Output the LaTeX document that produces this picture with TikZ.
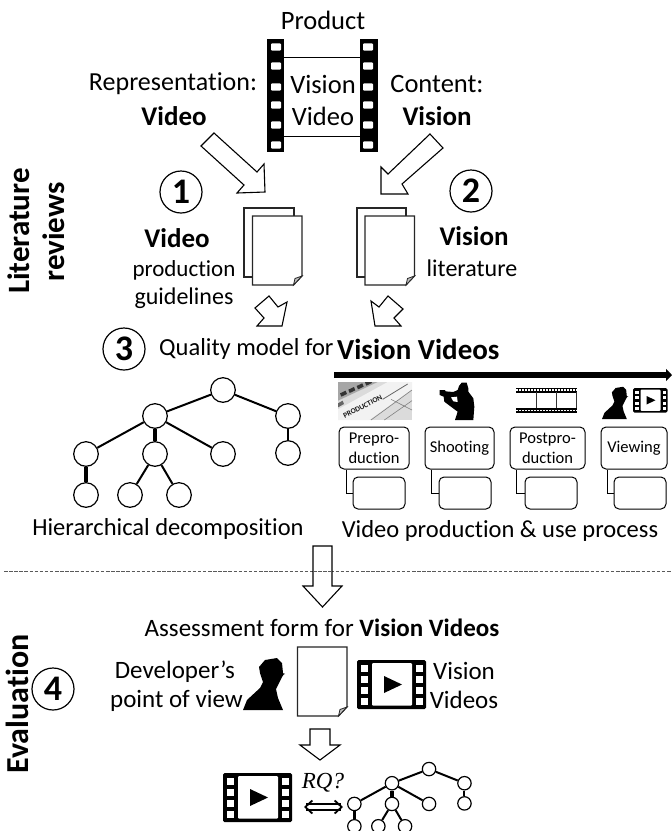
\documentclass[tikz,border=0pt]{standalone}
\usepackage{fontspec}
\setmainfont{Carlito}[Ligatures=NoCommon]
\newfontfamily\rqfont{Liberation Serif}
\usetikzlibrary{arrows.meta,calc}
\newcommand{\fz}[1]{\fontsize{#1}{#1}\selectfont}
\tikzset{
  lbl/.style={inner sep=0pt,font=\fz{25},align=center},
  bold lbl/.style={lbl,font=\fz{26}\bfseries},
  numcirc/.style={circle,draw,line width=1.2pt,minimum size=42pt,inner sep=0pt,font=\fz{36}\bfseries},
  treenode/.style={circle,draw,fill=white,line width=1.2pt,inner sep=0pt},
  treeedge/.style={line width=2pt},
  treeedgeB/.style={line width=3.2pt},
  block/.style={draw,fill=white,line width=1.1pt,line join=miter},
  sheet/.style={draw=black!85,fill=white,line width=1.2pt},
  stepbox/.style={draw,fill=white,rounded corners=5pt,line width=1pt,inner sep=0pt,align=center,font=\fontsize{16.5}{20}\selectfont},
  subbox/.style={draw,fill=white,rounded corners=5pt,line width=1pt,inner sep=0pt,minimum height=32pt},
  sublink/.style={line width=1pt},
  film/.pic={
    \fill[black,rounded corners=1.5pt] (0,0) rectangle (69,49);
    \fill[white,rounded corners=1pt] (15,3) rectangle (55,45.5);
    \foreach \yy in {5,16,27,38}{
      \fill[white] (3.5,\yy) rectangle (11,\yy+6.5);
      \fill[white] (59,\yy) rectangle (66,\yy+6.5);
    }
    \fill[black] (27,16) -- (27,33) -- (45,24.5) -- cycle;
  },
  bust/.pic={
    \fill[black] (0,0) -- (4,-10) -- (17,-22) -- (20,-28) -- (17,-37) -- (16,-43) -- (22,-50) -- (34,-52) -- (39,-47)
      -- (40,-37) -- (41,-36) -- (39,-33) -- (36,-27) -- (33,-21) -- (35,-12) -- (40,0) -- cycle;
    \draw[black,line width=.5pt] (35,-37) -- (42,-36);
  },
}
\newcommand{\pagesheet}[4]{% name, x0, y0, foldsize
  \path[sheet] (#2,#3) -- (#2+49.5,#3) -- (#2+49.5,#3+60) -- (#2+41,#3+69) -- (#2,#3+69) -- cycle;
  \path[draw=black!85,fill=black!25,line width=.8pt] (#2+49.5,#3+60) -- (#2+41,#3+69) -- (#2+42.5,#3+62.5) -- cycle;
}
\newcommand{\hiertree}[5]{% prefix, ox, oy, scale, node size
  \begin{scope}[shift={(#2,#3)},scale=#4,treenode/.append style={minimum size=#5}]
    \node[treenode] (#1r) at (223,390) {};
    \node[treenode] (#1a) at (155,416) {};
    \node[treenode] (#1b) at (288,416) {};
    \node[treenode] (#1c) at (86,454) {};
    \node[treenode] (#1d) at (155,454) {};
    \node[treenode] (#1e) at (223,454) {};
    \node[treenode] (#1f) at (288,453) {};
    \node[treenode] (#1g) at (86,495) {};
    \node[treenode] (#1h) at (130,495) {};
    \node[treenode] (#1i) at (179,495) {};
  \end{scope}
  \draw[treeedge] (#1r) -- (#1a);
  \draw[treeedge] (#1r) -- (#1b);
  \draw[treeedge] (#1a) -- (#1c);
  \draw[treeedgeB] (#1a) -- (#1d);
  \draw[treeedge] (#1a) -- (#1e);
  \draw[treeedge] (#1b) -- (#1f);
  \draw[treeedgeB] (#1c) -- (#1g);
  \draw[treeedge] (#1d) -- (#1h);
  \draw[treeedge] (#1d) -- (#1i);
}
\begin{document}
\begin{tikzpicture}[x=1pt,y=-1pt]
\useasboundingbox[fill=white] (0,0) rectangle (672,831);

% top labels
\node[lbl,font=\fz{26.5}] (product) at (323,20) {Product};
\node[lbl,font=\fz{26}] (repr) at (173,84) {Representation:};
\node[bold lbl,font=\fz{27}\bfseries] (reprv) at (174,116) {Video};
\node[lbl,font=\fz{26.5}] (content) at (437,84) {Content:};
\node[bold lbl,font=\fz{27}\bfseries] (contv) at (437,116) {Vision};

% film strip
\fill[black] (267,39) rectangle (284,152);
\fill[black] (360,39) rectangle (378,152);
\foreach \yy in {47,66,87,105,125,145}{
  \fill[white,rounded corners=1pt] (271,\yy-3.7) rectangle (281,\yy+3.7);
  \fill[white,rounded corners=1pt] (363,\yy-3.7) rectangle (373,\yy+3.7);
}
\draw[line width=1pt] (284,57.5) -- (360,57.5);
\draw[line width=1pt] (284,136) -- (360,136);
\node[lbl,font=\fz{26.5}] (vision) at (323,84) {Vision};
\node[lbl,font=\fz{26.5}] (video) at (323,116) {Video};

% big arrows
\path[block] (214,133) -- (257,172) -- (264,164) -- (265,192) -- (237,193) -- (244,185) -- (201,146) -- cycle;
\path[block] (430,134) -- (443,148) -- (402,184) -- (408,194) -- (381,194) -- (381,167) -- (388,174) -- cycle;

% documents
\path[sheet] (244,208) rectangle (294,277);
\pagesheet{d1}{252.5}{216}{8}
\path[sheet] (357,208) rectangle (406,277);
\pagesheet{d2}{365}{216}{8}

% small arrows
\path[block] (269,296) -- (278,307) -- (287,302) -- (282,326) -- (257,326) -- (264,318) -- (255,308) -- cycle;
\path[block] (388,296) -- (403,309) -- (394,318) -- (401,326) -- (375,326) -- (371,301) -- (379,307) -- cycle;

% numbered circles
\node[numcirc] (n1) at (181,192) {1};
\node[numcirc] (n2) at (471,191) {2};
\node[numcirc] (n3) at (124,349) {3};
\node[numcirc] (n4) at (53,689) {4};

% side titles
\node[bold lbl,font=\fz{31}\bfseries,rotate=90] (lit) at (19,231) {Literature};
\node[bold lbl,font=\fz{31}\bfseries,rotate=90] (rev) at (54,232) {reviews};
\node[bold lbl,font=\fz{32}\bfseries,rotate=90] (eva) at (17.5,704) {Evaluation};

% literature labels
\node[bold lbl,font=\fz{27}\bfseries] (l1) at (177,238) {Video};
\node[lbl,font=\fz{23}] (l2) at (184,270) {production};
\node[lbl,font=\fz{24}] (l3) at (184,298) {guidelines};
\node[bold lbl,font=\fz{27}\bfseries] (r1) at (474,236) {Vision};
\node[lbl,font=\fz{24}] (r2) at (472,268) {literature};

% quality model
\node[lbl,font=\fz{24.5},anchor=west] (q1) at (159,349) {Quality model for};
\node[bold lbl,font=\fz{29}\bfseries,anchor=west] (q2) at (337,349) {Vision Videos};

% hierarchy
\hiertree{t}{0}{0}{1}{24.6pt}

% timeline
\draw[line width=5.5pt,-{Triangle[length=6pt,width=12pt]}] (334,375) -- (672,375);

% clapboard picture
\begin{scope}[shift={(336,380)},scale=1/3]
  \clip (6,6) rectangle (228,120);
  \fill[black!14] (6,6) rectangle (228,120);
  \fill[black!35] (6,6) -- (125,6) -- (6,62) -- cycle;
  \foreach \xo/\yo in {12/40,37/29,62/18,87/7}{
    \fill[black!80] (\xo,\yo) -- ++(17,-8) -- ++(4,10) -- ++(-17,8) -- cycle;
  }
  \fill[black!60] (6,70) -- (20,62) -- (24,72) -- (6,82) -- cycle;
  \fill[black!5] (6,88) -- (155,6) -- (228,6) -- (228,28) -- (100,120) -- (6,120) -- cycle;
  \draw[black!50,line width=.6pt] (105,120) -- (228,30);
  \draw[black!50,line width=.6pt] (145,120) -- (228,62);
  \draw[black!50,line width=.6pt] (165,58) -- (228,90);
  \draw[black!60,line width=.8pt] (140,58) -- (215,12);
  \node[rotate=27,inner sep=0pt,font=\fz{7.5}\bfseries,text=black!90] (prodtxt) at (80,80) {PRODUCTION};
\end{scope}

% cameraman
\begin{scope}[shift={(435,380)},scale=1/3]
  \fill[black] (14,30) -- (30,30) -- (32,34) -- (55,36) -- (68,30) -- (72,18) -- (80,8) -- (95,8) -- (100,25) -- (100,35)
    -- (115,55) -- (118,80) -- (115,120) -- (60,120) -- (68,95) -- (45,78) -- (28,65) -- (26,50) -- (14,45) -- cycle;
  \fill[white] (48,52) -- (66,50) -- (68,66) -- (55,64) -- cycle;
\end{scope}

% film strip, small
\fill[black] (516,388) rectangle (577,392.5);
\fill[black] (516,408) rectangle (577,412.5);
\draw[white,line width=1.4pt,dash pattern=on 1.6pt off 1.4pt] (516,390) -- (577,390);
\draw[white,line width=1.4pt,dash pattern=on 1.6pt off 1.4pt] (516,410.3) -- (577,410.3);
\draw[black!80,line width=.9pt] (536,392) -- (536,408);
\draw[black!80,line width=.9pt] (556,392) -- (556,408);
\draw[black!80,line width=.9pt] (576.5,392) -- (576.5,408);

% viewer
\pic[scale=.62] at (602,419) {bust};
\pic[scale=.5] at (633,388) {film};

% process boxes
\node[stepbox,minimum width=70pt,minimum height=42pt] (p1) at (374,448) {Prepro-\\duction};
\node[stepbox,minimum width=69pt,minimum height=42pt] (p2) at (459.5,448) {Shooting};
\node[stepbox,minimum width=75pt,minimum height=42pt] (p3) at (547.5,448) {Postpro-\\duction};
\node[stepbox,minimum width=66pt,minimum height=42pt] (p4) at (634,448) {Viewing};
\node[subbox,minimum width=52pt] (s1) at (379,493) {};
\node[subbox,minimum width=52pt] (s2) at (465,493) {};
\node[subbox,minimum width=52pt] (s3) at (551,493) {};
\node[subbox,minimum width=52pt] (s4) at (640,493) {};
\draw[sublink] ([xshift=8pt]p1.south west) |- (s1.west);
\draw[sublink] ([xshift=7pt]p2.south west) |- (s2.west);
\draw[sublink] ([xshift=7pt]p3.south west) |- (s3.west);
\draw[sublink] ([xshift=6.5pt]p4.south west) |- (s4.west);

% captions
\node[lbl,font=\fz{24.5}] (c1) at (168,529) {Hierarchical decomposition};
\node[lbl,font=\fz{24.5}] (c2) at (500,531) {Video production \& use process};

% separator and arrow
\draw[black!65,line width=.8pt,dash pattern=on 3.5pt off 1.6pt] (4,571) -- (672,571);
\path[block] (313,546) -- (332,546) -- (332,586) -- (342,586) -- (322.5,607) -- (303,586) -- (313,586) -- cycle;
\draw[black!65,line width=.8pt,dash pattern=on 3.5pt off 1.6pt] (313,571) -- (332,571);

% evaluation
\node[lbl] (as1) at (322,628) {Assessment form for \textbf{Vision Videos}};
\node[lbl,anchor=east] (dev1) at (235,672) {Developer’s};
\node[lbl,anchor=east] (dev2) at (243,701) {point of view};
\pic[scale=1] at (243,710) {bust};
\pagesheet{d3}{297.5}{647}{8}
\pic at (357,660) {film};
\node[lbl] (vv1) at (464,671) {Vision};
\node[lbl] (vv2) at (464,700) {Videos};

% lower arrow
\path[block] (310,729) -- (330,729) -- (330,745) -- (340,745) -- (320,760) -- (300,745) -- (310,745) -- cycle;

% comparison
\pic at (223,773) {film};
\node[inner sep=0pt,font=\fz{23}\rqfont\itshape] (rq) at (323,783) {RQ?};
\coordinate (dl) at (304,807);
\coordinate (dr) at (343,807);
\draw[line width=1.8pt,{Straight Barb[length=7pt,width=13pt]}-{Straight Barb[length=7pt,width=13pt]},double,double distance=3.5pt] (dl) -- (dr);
\hiertree{u}{307.5}{556.5}{.545}{13.4pt}
\end{tikzpicture}
\end{document}
